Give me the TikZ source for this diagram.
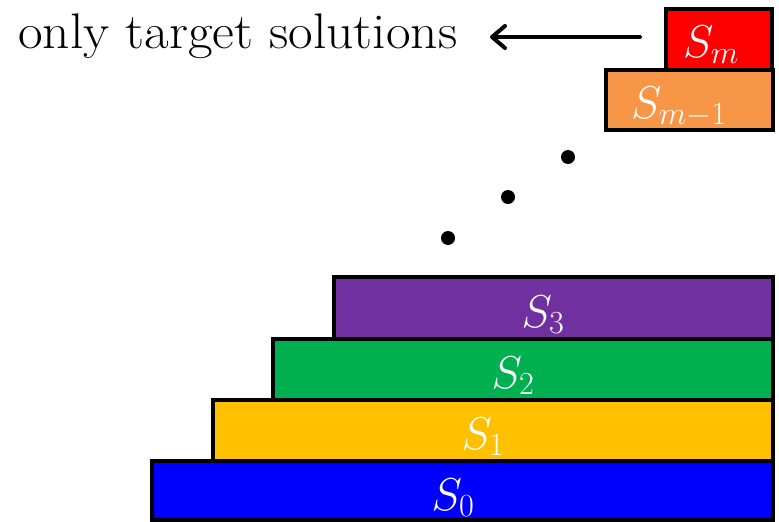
\RequirePackage{fix-cm}
\documentclass[tikz,border=0pt]{standalone}
\usepackage{fontspec}
\usetikzlibrary{arrows.meta}
\definecolor{cSm}{HTML}{FF0000}
\definecolor{cSmm}{HTML}{F79646}
\definecolor{cSthree}{HTML}{7030A0}
\definecolor{cStwo}{HTML}{00B050}
\definecolor{cSone}{HTML}{FFC000}
\definecolor{cSzero}{HTML}{0000FF}
\tikzset{
  layer/.style={draw=black, line width=4pt, rectangle, anchor=north west, outer sep=0pt, inner sep=0pt},
  lbl/.style={text=white, anchor=base, inner sep=0pt, font=\fontsize{46}{54}\selectfont},
  dotnode/.style={circle, fill=black, minimum size=14pt, inner sep=0pt},
  arr/.style={line width=4pt, line cap=round, -{Straight Barb[length=13pt, width=22pt, line width=4pt, round]}},
  captxt/.style={anchor=base west, inner sep=0pt, font=\fontsize{50}{58}\selectfont}
}
\begin{document}
\begin{tikzpicture}[x=1pt, y=-1pt]
\useasboundingbox (0,0) rectangle (779,522);
% layers
\node[layer, fill=cSzero, minimum width=621pt, minimum height=59pt] (s0) at (152,461) {};
\node[layer, fill=cSone, minimum width=560pt, minimum height=61pt] (s1) at (213,400) {};
\node[layer, fill=cStwo, minimum width=500pt, minimum height=61pt] (s2) at (273,339) {};
\node[layer, fill=cSthree, minimum width=439pt, minimum height=62pt] (s3) at (334,277) {};
\node[layer, fill=cSmm, minimum width=167pt, minimum height=60pt] (smm) at (606,70) {};
\node[layer, fill=cSm, minimum width=106pt, minimum height=61pt] (sm) at (666,9) {};
% labels
\node[lbl] (l0) at (453,510) {$S_0$};
\node[lbl] (l1) at (483,449) {$S_1$};
\node[lbl] (l2) at (513,388) {$S_2$};
\node[lbl] (l3) at (543,327) {$S_3$};
\node[lbl] (lmm) at (679,118) {$S_{m-1}$};
\node[lbl] (lm) at (711,57) {$S_m$};
% dots
\node[dotnode] (d1) at (448,238) {};
\node[dotnode] (d2) at (508,197) {};
\node[dotnode] (d3) at (568,157) {};
% caption and arrow
\node[captxt] (txt) at (18,48) {\scalebox{1.07}[1]{only target solutions}};
\coordinate (atail) at (640,37);
\coordinate (ahead) at (490,37);
\draw[arr] (atail) -- (ahead);
\end{tikzpicture}
\end{document}
